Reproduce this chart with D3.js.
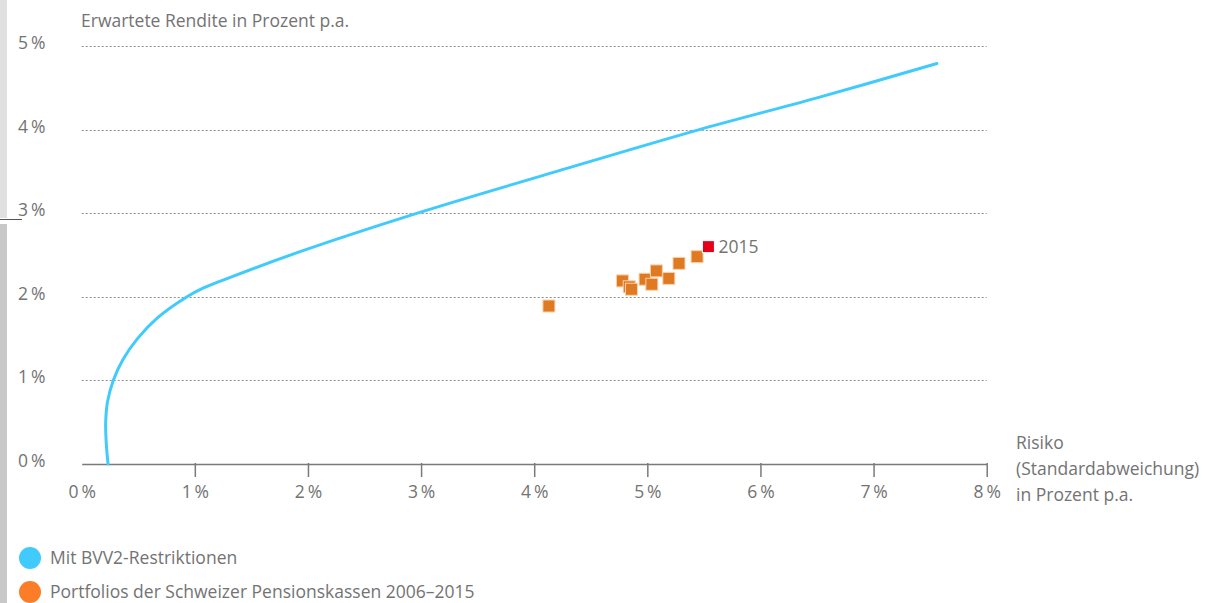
<!DOCTYPE html>
<html>
<head>
<meta charset="utf-8">
<script src="https://cdn.jsdelivr.net/npm/d3@7"></script>
<style>
  body { margin: 0; background: #fff; }
  text { font-family: "Open Sans", sans-serif; fill: #737373; }
</style>
</head>
<body>
<script>
// efficient frontier with BVV2 restrictions (risk %, return %)
var frontierRisk   = [0.233, 0.217, 0.212, 0.229, 0.279, 0.365, 0.493, 0.672, 0.931, 1.068, 1.25, 1.93, 2.99, 4.2, 5.46, 6.5, 7.56];
var frontierReturn = [0.0, 0.25, 0.5, 0.75, 1.0, 1.25, 1.5, 1.75, 2.0, 2.1, 2.2, 2.54, 3.01, 3.5, 4.0, 4.38, 4.79];

// pension fund portfolios 2006-2015
var pfRisk   = [4.13, 4.78, 4.84, 4.86, 4.98, 5.04, 5.08, 5.19, 5.28, 5.44, 5.54];
var pfReturn = [1.89, 2.19, 2.12, 2.09, 2.21, 2.15, 2.31, 2.22, 2.40, 2.48, 2.60];
var pfLabel  = ["", "", "", "", "", "", "", "", "", "", "2015"];

var xTicks = [0, 1, 2, 3, 4, 5, 6, 7, 8];
var yTicks = [0, 1, 2, 3, 4, 5];

var legendLabels = ["Mit BVV2-Restriktionen", "Portfolios der Schweizer Pensionskassen 2006\u20132015"];
var legendColors = ["#40CBFC", "#FB7D28"];

var W = 1205, H = 603;
var fs = 17.5;

var svg = d3.select('body')
  .append('svg')
  .attr('width', W)
  .attr('height', H);

// grey strip on the left edge (screenshot border)
svg.append('rect').attr('x', 0).attr('y', 0).attr('width', 7).attr('height', 218).attr('fill', '#e0e0e0');
svg.append('rect').attr('x', 0).attr('y', 224).attr('width', 7).attr('height', H - 224).attr('fill', '#c8c8c8');
svg.append('line').attr('x1', 0).attr('x2', 22).attr('y1', 219.5).attr('y2', 219.5).attr('stroke', '#555').attr('stroke-width', 1);

var x = d3.scaleLinear().domain([0, 8]).range([81.7, 986.7]);
var y = d3.scaleLinear().domain([0, 5]).range([464, 46]);

// dotted grid
svg.append('g').selectAll('line.grid')
  .data(yTicks.filter(function(d) { return d > 0; }))
  .enter().append('line')
  .attr('class', 'grid')
  .attr('x1', x(0))
  .attr('x2', x(8))
  .attr('y1', function(d) { return Math.round(y(d)) + 0.5; })
  .attr('y2', function(d) { return Math.round(y(d)) + 0.5; })
  .attr('stroke', '#8f8f8f')
  .attr('stroke-width', 1.2)
  .attr('stroke-dasharray', '2,2');

// y labels
svg.append('g').selectAll('text.ylab')
  .data(yTicks)
  .enter().append('text')
  .attr('class', 'ylab')
  .attr('x', 18)
  .attr('y', function(d) { return y(d) + 3; })
  .attr('font-size', fs)
  .text(function(d) { return d + '\u2009%'; });

svg.append('text')
  .attr('x', 81)
  .attr('y', 27)
  .attr('font-size', fs)
  .text('Erwartete Rendite in Prozent p.a.');

// x axis
var xAxis = d3.axisBottom(x)
  .tickValues(xTicks)
  .tickSize(13)
  .tickSizeOuter(0)
  .tickFormat(function(d) { return d + '\u2009%'; });

var gx = svg.append('g')
  .attr('transform', 'translate(0,' + 464 + ')')
  .call(xAxis);
gx.select('.domain').attr('stroke', '#7a7a7a').attr('stroke-width', 1.5);
gx.selectAll('.tick line').attr('stroke', '#7a7a7a').attr('stroke-width', 1.5).attr('y1', -1);
gx.selectAll('.tick').filter(function(d) { return d === 0; }).select('line').remove();
gx.selectAll('.tick text')
  .attr('y', 22)
  .attr('font-size', fs)
  .attr('font-family', '"Open Sans", sans-serif')
  .attr('fill', '#737373');

var xTitle = svg.append('text')
  .attr('x', 1016)
  .attr('y', 449)
  .attr('font-size', fs);
['Risiko', '(Standardabweichung)', 'in Prozent p.a.'].forEach(function(t, i) {
  xTitle.append('tspan').attr('x', 1016).attr('dy', i === 0 ? 0 : 26).text(t);
});

// frontier curve
var frontier = frontierRisk.map(function(r, i) { return [r, frontierReturn[i]]; });
svg.append('path')
  .datum(frontier)
  .attr('fill', 'none')
  .attr('stroke', '#40CBFC')
  .attr('stroke-width', 3)
  .attr('stroke-linecap', 'round')
  .attr('d', d3.line()
    .x(function(d) { return x(d[0]); })
    .y(function(d) { return y(d[1]); })
    .curve(d3.curveCatmullRom.alpha(0.5)));

// portfolios
var pts = pfRisk.map(function(r, i) { return { r: r, v: pfReturn[i], label: pfLabel[i] }; });
var sq = 12;
svg.append('g').selectAll('rect.pf')
  .data(pts)
  .enter().append('rect')
  .attr('class', 'pf')
  .attr('x', function(d) { return x(d.r) - sq / 2; })
  .attr('y', function(d) { return y(d.v) - sq / 2; })
  .attr('width', sq)
  .attr('height', sq)
  .attr('fill', function(d) { return d.label ? '#E3001B' : '#E07A22'; })
  .attr('stroke', function(d) { return d.label ? '#fff' : '#F8D2AE'; })
  .attr('stroke-width', 1);

svg.append('g').selectAll('text.pflab')
  .data(pts.filter(function(d) { return d.label; }))
  .enter().append('text')
  .attr('class', 'pflab')
  .attr('x', function(d) { return x(d.r) + 10; })
  .attr('y', function(d) { return y(d.v) + 6; })
  .attr('font-size', fs)
  .text(function(d) { return d.label; });

// legend
var lg = svg.append('g').selectAll('g.leg')
  .data(legendLabels)
  .enter().append('g')
  .attr('class', 'leg')
  .attr('transform', function(d, i) { return 'translate(0,' + (558 + i * 34) + ')'; });
lg.append('circle')
  .attr('cx', 30)
  .attr('cy', 0)
  .attr('r', 11)
  .attr('fill', function(d, i) { return legendColors[i]; });
lg.append('text')
  .attr('x', 50)
  .attr('y', 6)
  .attr('font-size', fs)
  .text(function(d) { return d; });
</script>
</body>
</html>
